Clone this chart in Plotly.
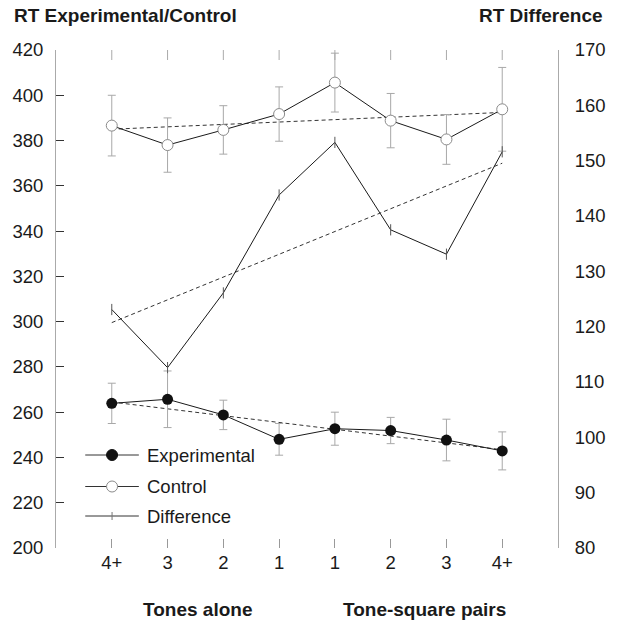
import numpy as np
import plotly.graph_objects as go

# ---- data ----
categories = ["4+", "3", "2", "1", "1", "2", "3", "4+"]
experimental = [263.9, 265.7, 258.8, 248.0, 252.7, 251.9, 247.7, 242.9]
experimental_err = [8.9, 12.5, 6.5, 7.0, 7.3, 5.8, 9.2, 8.4]
control = [386.6, 378.0, 384.7, 391.7, 405.6, 388.8, 380.5, 393.8]
control_err = [13.4, 12.0, 10.7, 12.0, 13.0, 12.0, 11.0, 18.5]
difference = [123.1, 112.6, 126.1, 143.8, 153.3, 137.5, 133.1, 151.6]
left_ticks = list(range(200, 421, 20))
right_ticks = list(range(80, 171, 10))

xpos = list(range(len(categories)))

# ---- layout geometry ----
W, H = 618, 623
ML, MR, MT, MB = 54, 49, 50, 75
PW, PH = W - ML - MR, H - MT - MB


def px(xp):
    return (xp - ML) / PW


def py(yp):
    return (H - MB - yp) / PH


FONT = "Liberation Sans, Arial, sans-serif"
TXT = "#1a1a1a"
LINE = "#1a1a1a"
GREY = "#8a8a8a"
ERR = "#a8a8a8"
FS = 18.5
FT = 19


def trend(vals):
    k, b = np.polyfit(xpos, vals, 1)
    return [b + k * xpos[0], b + k * xpos[-1]]


fig = go.Figure()

# trend lines
for vals, ax in ((control, "y"), (experimental, "y"), (difference, "y2")):
    fig.add_trace(go.Scatter(
        x=[xpos[0], xpos[-1]], y=trend(vals), mode="lines", yaxis=ax,
        line=dict(color="#333", width=1, dash="4px,3px"),
        showlegend=False, hoverinfo="skip"))

# control
fig.add_trace(go.Scatter(
    x=xpos, y=control, mode="lines+markers", name="Control",
    line=dict(color=LINE, width=1),
    marker=dict(symbol="circle", size=11, color="white",
                line=dict(color=GREY, width=1)),
    error_y=dict(type="data", array=control_err, color=ERR,
                 thickness=1, width=4),
    showlegend=False))

# experimental
fig.add_trace(go.Scatter(
    x=xpos, y=experimental, mode="lines+markers", name="Experimental",
    line=dict(color=LINE, width=1),
    marker=dict(symbol="circle", size=11, color="#111"),
    error_y=dict(type="data", array=experimental_err, color=ERR,
                 thickness=1, width=4),
    showlegend=False))

# difference
fig.add_trace(go.Scatter(
    x=xpos, y=difference, mode="lines+markers", name="Difference",
    yaxis="y2",
    line=dict(color=LINE, width=1),
    marker=dict(symbol="line-ns", size=8, line=dict(color="#555", width=1)),
    showlegend=False))

shapes = []
annotations = []

# top tick marks at each category position
for xv in xpos:
    shapes.append(dict(type="line", xref="x", yref="paper",
                       x0=xv, x1=xv, y0=1, y1=1 - 10 / PH,
                       line=dict(color="#aaa", width=1)))

# ---- custom legend (layout decorations) ----
legend_items = [("Experimental", 455), ("Control", 486.5), ("Difference", 516)]
for name, yy in legend_items:
    shapes.append(dict(type="line", xref="paper", yref="paper",
                       x0=px(84), x1=px(139), y0=py(yy), y1=py(yy),
                       line=dict(color="#333", width=1)))
    if name == "Experimental":
        shapes.append(dict(type="circle", xref="paper", yref="paper",
                           xsizemode="pixel", ysizemode="pixel",
                           xanchor=px(111.5), yanchor=py(yy),
                           x0=-5.5, x1=5.5, y0=-5.5, y1=5.5,
                           fillcolor="#111", line=dict(color="#111", width=1)))
    elif name == "Control":
        shapes.append(dict(type="circle", xref="paper", yref="paper",
                           xsizemode="pixel", ysizemode="pixel",
                           xanchor=px(111.5), yanchor=py(yy),
                           x0=-5.5, x1=5.5, y0=-5.5, y1=5.5,
                           fillcolor="white", line=dict(color=GREY, width=1)))
    else:
        shapes.append(dict(type="line", xref="paper", yref="paper",
                           xsizemode="pixel", ysizemode="pixel",
                           xanchor=px(111.5), yanchor=py(yy),
                           x0=0, x1=0, y0=-4, y1=4,
                           line=dict(color="#777", width=1)))
    annotations.append(dict(text=name, xref="paper", yref="paper",
                            x=px(145), y=py(yy), xanchor="left",
                            yanchor="middle", showarrow=False,
                            font=dict(size=FS, color=TXT, family=FONT)))

# titles
annotations += [
    dict(text="<b>RT Experimental/Control</b>", xref="paper", yref="paper",
         x=px(9), y=py(15), xanchor="left", yanchor="middle",
         showarrow=False, font=dict(size=FT, color=TXT, family=FONT)),
    dict(text="<b>RT Difference</b>", xref="paper", yref="paper",
         x=px(617), y=py(15), xanchor="right", yanchor="middle",
         showarrow=False, font=dict(size=FT, color=TXT, family=FONT)),
    dict(text="<b>Tones alone</b>", xref="paper", yref="paper",
         x=px(199), y=py(609), xanchor="center", yanchor="middle",
         showarrow=False, font=dict(size=FT, color=TXT, family=FONT)),
    dict(text="<b>Tone-square pairs</b>", xref="paper", yref="paper",
         x=px(432), y=py(609), xanchor="center", yanchor="middle",
         showarrow=False, font=dict(size=FT, color=TXT, family=FONT)),
]

fig.update_layout(
    width=W, height=H,
    margin=dict(l=ML, r=MR, t=MT, b=MB, pad=0),
    paper_bgcolor="white", plot_bgcolor="white",
    font=dict(family=FONT, size=FS, color=TXT),
    showlegend=False,
    shapes=shapes, annotations=annotations,
    xaxis=dict(range=[-1, 8], tickmode="array", tickvals=xpos,
               ticktext=categories, ticks="inside", ticklen=9,
               tickcolor="#999", tickwidth=1,
               showline=False, showgrid=False, zeroline=False,
               ticklabelstandoff=1,
               tickfont=dict(size=FS, color=TXT)),
    yaxis=dict(range=[200, 420], tickmode="array", tickvals=left_ticks,
               ticks="inside", ticklen=8, tickcolor="#333", tickwidth=1,
               showline=True, linecolor="#aaa", linewidth=1,
               showgrid=False, zeroline=False, ticklabelstandoff=8,
               tickfont=dict(size=FS, color=TXT)),
    yaxis2=dict(range=[80, 170], tickmode="array", tickvals=right_ticks,
                overlaying="y", side="right", ticks="",
                showline=True, linecolor="#aaa", linewidth=1,
                showgrid=False, zeroline=False, ticklabelstandoff=12,
                tickfont=dict(size=FS, color=TXT)),
)

fig.write_html("out.html")
